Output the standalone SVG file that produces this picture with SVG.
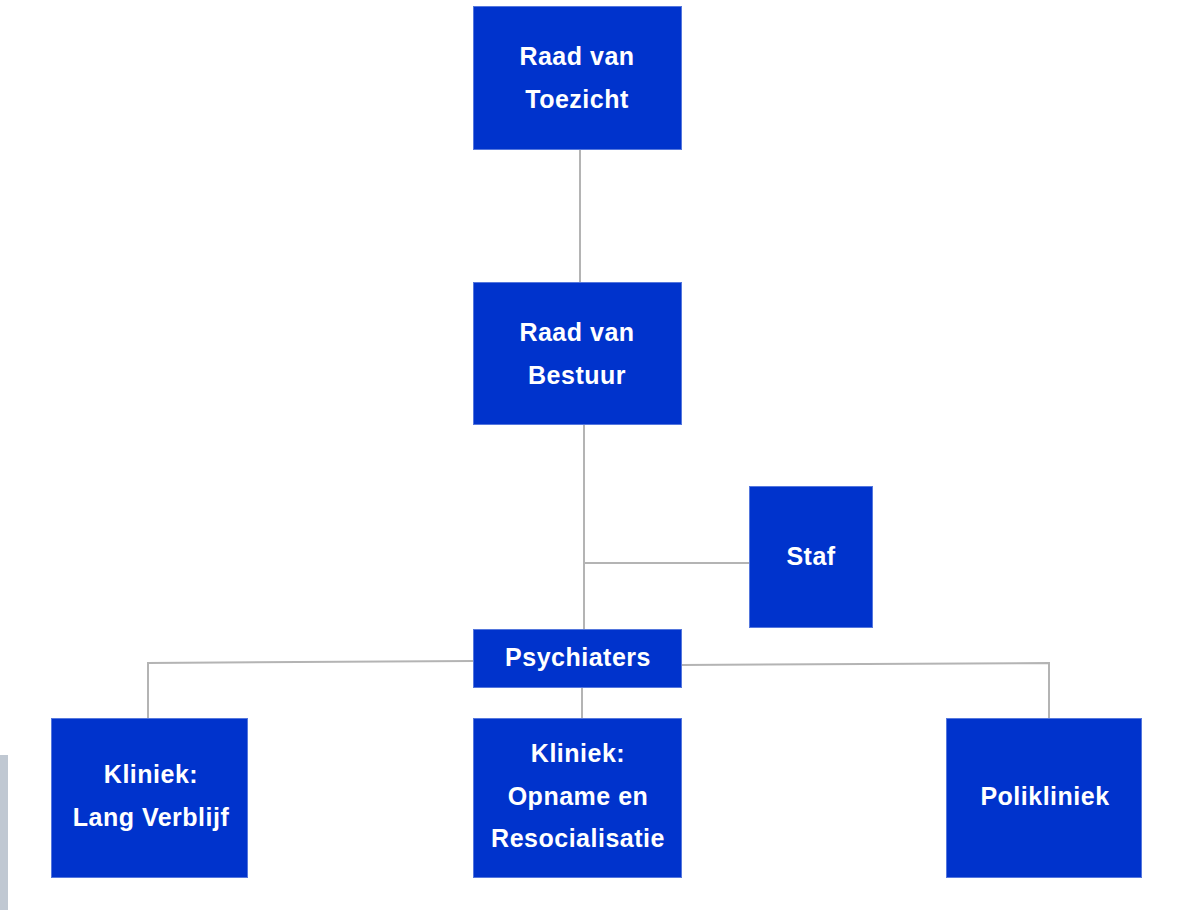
<svg xmlns="http://www.w3.org/2000/svg" width="1198" height="910" viewBox="0 0 1198 910">
<style>
.box{fill:#0033cc;stroke:#5577dd;stroke-width:1}
.t{fill:#ffffff;font-family:"Liberation Sans",Arial,sans-serif;font-weight:bold;font-size:25px;letter-spacing:0.5px;text-anchor:middle}
.c{stroke:#b4b4b4;stroke-width:2;fill:none}
</style>
<rect x="0" y="755" width="8" height="155" fill="#c0c8d2"/>
<g id="connectors">
<path class="c" d="M580 150 V282"/>
<path class="c" d="M584 425 V630"/>
<path class="c" d="M584 563 H749"/>
<path class="c" d="M473 661 L148 663 V718"/>
<path class="c" d="M681 665 L1049 663 V718"/>
<path class="c" d="M582 688 V718"/>
</g>
<g id="raad-toezicht">
<rect class="box" x="473.5" y="6.5" width="208" height="143"/>
<text class="t" x="577" y="65">Raad van</text>
<text class="t" x="577" y="108">Toezicht</text>
</g>
<g id="raad-bestuur">
<rect class="box" x="473.5" y="282.5" width="208" height="142"/>
<text class="t" x="577" y="341">Raad van</text>
<text class="t" x="577" y="384">Bestuur</text>
</g>
<g id="staf">
<rect class="box" x="749.5" y="486.5" width="123" height="141"/>
<text class="t" x="811" y="565">Staf</text>
</g>
<g id="psychiaters">
<rect class="box" x="473.5" y="629.5" width="208" height="58"/>
<text class="t" x="578" y="666">Psychiaters</text>
</g>
<g id="lang-verblijf">
<rect class="box" x="51.5" y="718.5" width="196" height="159"/>
<text class="t" x="151" y="783">Kliniek:</text>
<text class="t" x="151" y="826">Lang Verblijf</text>
</g>
<g id="opname">
<rect class="box" x="473.5" y="718.5" width="208" height="159"/>
<text class="t" x="578" y="762">Kliniek:</text>
<text class="t" x="578" y="805">Opname en</text>
<text class="t" x="578" y="847">Resocialisatie</text>
</g>
<g id="polikliniek">
<rect class="box" x="946.5" y="718.5" width="195" height="159"/>
<text class="t" x="1045" y="805">Polikliniek</text>
</g>
</svg>
